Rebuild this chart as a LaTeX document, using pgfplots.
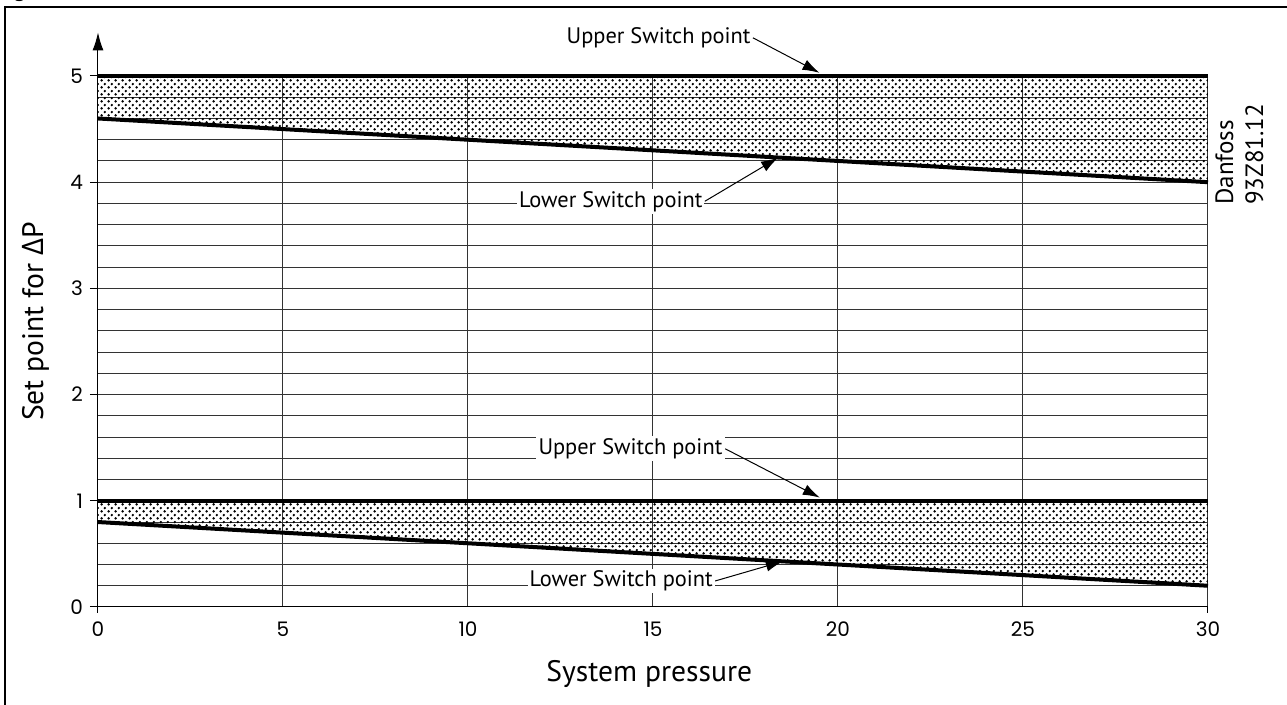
\documentclass[border=0pt]{standalone}
\usepackage{pgfplots}
\pgfplotsset{compat=1.18}
\usepackage{fontspec}
\setmainfont{PT Sans}
\newfontfamily\grk{Open Sans}
\newfontfamily\tickfont{Poppins}
\usetikzlibrary{arrows.meta,patterns}
\pgfdeclarepatternformonly{mydots}{\pgfpointorigin}{\pgfqpoint{3.6pt}{3.6pt}}{\pgfqpoint{3.6pt}{3.6pt}}{%
  \pgfpathcircle{\pgfqpoint{0.9pt}{0.9pt}}{0.7pt}%
  \pgfpathcircle{\pgfqpoint{2.7pt}{2.7pt}}{0.7pt}%
  \pgfusepath{fill}%
}
\newcommand\annfont{\fontsize{11.2}{13}\selectfont}
\tikzset{annarrow/.style={line width=0.5pt, -{Latex[length=8.5pt,width=5.5pt]}}}
\begin{document}
\begin{tikzpicture}
\useasboundingbox (-49pt,-49pt) rectangle (594.5pt,303.5pt);
% frame (only top and left edges visible)
\draw[line width=0.9pt] (-46.5pt,-60pt) -- (-46.5pt,300pt) -- (610pt,300pt);
\node[anchor=base west, font=\fontsize{12}{14}\selectfont, inner sep=0pt] at (-42.5pt,305pt) {g};
\begin{axis}[
  at={(0pt,0pt)}, anchor=south west,
  scale only axis, width=555pt, height=265.5pt,
  xmin=0, xmax=30, ymin=0, ymax=5,
  clip=false,
  axis line style={draw=none},
  tick pos=left,
  xtick={0,5,...,30},
  ytick={0,1,...,5},
  minor y tick num=4,
  grid=both,
  major grid style={black!80, line width=0.5pt},
  minor grid style={black!80, line width=0.5pt},
  tick align=outside,
  ytick style={black, line width=0.5pt},
  xtick style={draw=none},
  major tick length=4pt, minor tick length=0pt,
  /pgf/number format/assume math mode=true,
  ticklabel style={font=\tickfont\fontsize{10}{12}\selectfont},
]
\addplot[draw=none, pattern=mydots] coordinates {(0,5) (30,5) (30,4.0) (0,4.6)} -- cycle;
\addplot[draw=none, pattern=mydots] coordinates {(0,1) (30,1) (30,0.2) (0,0.8)} -- cycle;
\addplot[black, line width=1.8pt] coordinates {(0,5) (30,5)};
\addplot[black, line width=2pt] coordinates {(0,4.6) (30,4.0)};
\addplot[black, line width=1.8pt] coordinates {(0,1) (30,1)};
\addplot[black, line width=2pt] coordinates {(0,0.8) (30,0.2)};
% axes
\draw[line width=0.5pt, -{Latex[length=9pt,width=5.5pt]}] (axis cs:0,0) -- (axis cs:0,5.41);
\draw[line width=0.5pt] (axis cs:0,0) -- (axis cs:30,0);
\draw[line width=0.5pt] (axis cs:0,0) -- ++(0,-3pt);
\draw[line width=0.5pt] (axis cs:30,0) -- ++(0,-3pt);
% annotations
\node[anchor=east, font=\annfont, inner sep=1pt] (a1) at (axis cs:17.7,5.36) {Upper Switch point};
\draw[annarrow] (a1.east) -- (axis cs:19.5,5.03);
\node[anchor=east, font=\annfont, inner sep=1pt, fill=white] (a2) at (axis cs:16.4,3.82) {Lower Switch point};
\draw[annarrow] (a2.east) -- (axis cs:18.38,4.23);
\node[anchor=east, font=\annfont, inner sep=1.2pt, fill=white] (a3) at (axis cs:16.95,1.49) {Upper Switch point};
\draw[annarrow] (a3.east) -- (axis cs:19.51,1.03);
\node[anchor=east, font=\annfont, inner sep=1pt, fill=white] (a4) at (axis cs:16.68,0.245) {Lower Switch point};
\draw[annarrow] (a4.east) -- (axis cs:18.51,0.43);
% axis labels
\node[font=\fontsize{14.8}{17}\selectfont, anchor=base] at (axis cs:14.9,-0.706) {System pressure};
\node[font=\fontsize{14.8}{17}\selectfont, anchor=base, rotate=90] at (axis cs:-1.486,2.69) {Set point for {\grk Δ}P};
% stamp
\node[font=\fontsize{12.5}{14}\selectfont, anchor=base west, rotate=90, inner sep=0pt] at (axis cs:30.68,3.785) {Danfoss};
\node[font=\fontsize{12.5}{14}\selectfont, anchor=base west, rotate=90, inner sep=0pt] at (axis cs:31.49,3.785) {93Z81.12};
\end{axis}
\end{tikzpicture}
\end{document}
